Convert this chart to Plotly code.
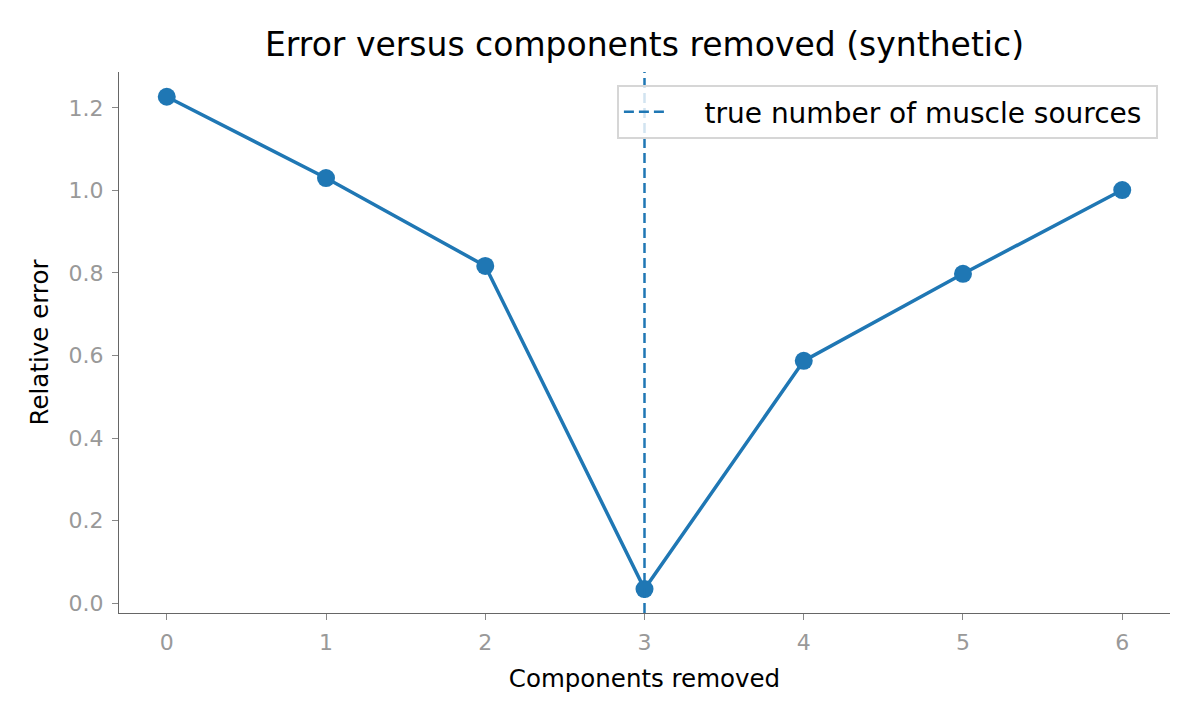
import plotly.graph_objects as go

# data
components = [0, 1, 2, 3, 4, 5, 6]
rel_error = [1.227, 1.030, 0.817, 0.034, 0.587, 0.798, 1.001]
true_sources = 3

blue = "#1f77b4"
font = "DejaVu Sans"

fig = go.Figure()
fig.add_trace(go.Scatter(
    x=components,
    y=rel_error,
    mode="lines+markers",
    line=dict(color=blue, width=3.5),
    marker=dict(color=blue, size=18),
    showlegend=False,
))

# vertical reference line, shown in the legend
fig.add_shape(
    type="line",
    xref="x", yref="paper",
    x0=true_sources, x1=true_sources, y0=0, y1=1,
    line=dict(color=blue, width=2.5, dash="10px,5px"),
    layer="above",
    showlegend=True,
    name="    true number of muscle sources ",
)

fig.update_layout(
    width=1200,
    height=720,
    paper_bgcolor="white",
    plot_bgcolor="white",
    margin=dict(l=111, r=38, t=64, b=115),
    font=dict(family=font, color="black"),
    title=dict(
        text="Error versus components removed (synthetic)",
        x=0.5, xref="paper", xanchor="center", y=0.949, yanchor="middle",
        font=dict(size=33, family=font, color="black"),
    ),
    legend=dict(
        x=0.9885, xanchor="right", y=0.976, yanchor="top",
        bgcolor="rgba(255,255,255,0.8)",
        bordercolor="#d6d6d6", borderwidth=2,
        font=dict(size=28, family=font, color="black"),
        itemwidth=40,
    ),
)

fig.update_xaxes(
    range=[-0.3, 6.3],
    tickvals=components,
    ticks="outside", ticklen=6, tickcolor="#888888", tickwidth=1,
    tickfont=dict(size=22, color="#999999"),
    ticklabelstandoff=3,
    showgrid=False, zeroline=False,
    showline=True, linecolor="#666666", linewidth=1.2,
    title=dict(text="Components removed", font=dict(size=24.5, color="black"), standoff=16),
)
fig.update_yaxes(
    range=[-0.024, 1.287],
    tickvals=[0.0, 0.2, 0.4, 0.6, 0.8, 1.0, 1.2],
    tickformat=".1f",
    ticks="outside", ticklen=6, tickcolor="#888888", tickwidth=1,
    tickfont=dict(size=22, color="#999999"),
    ticklabelstandoff=4,
    showgrid=False, zeroline=False,
    showline=True, linecolor="#666666", linewidth=1.2,
    title=dict(text="Relative error", font=dict(size=24.5, color="black"), standoff=12),
)

fig.write_html("out.html")
